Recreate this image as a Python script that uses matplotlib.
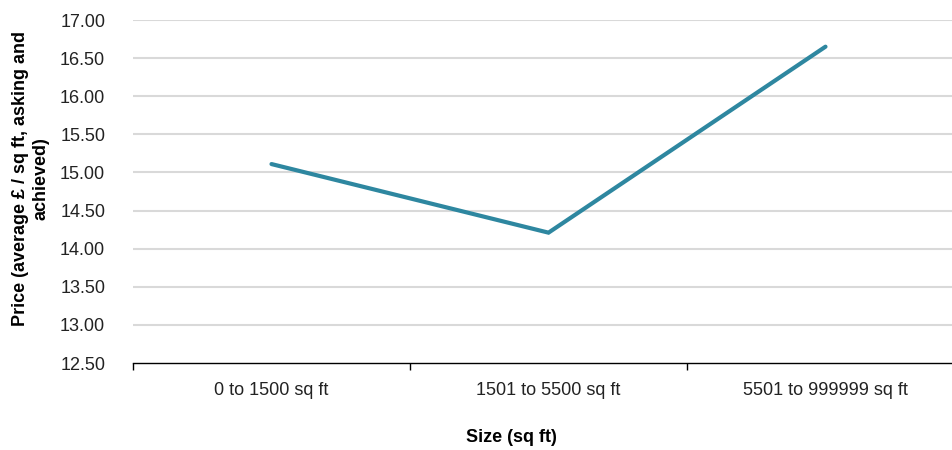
import matplotlib.pyplot as plt

plt.rcParams['font.family'] = ['Liberation Sans', 'DejaVu Sans']

sizes = ['0 to 1500 sq ft', '1501 to 5500 sq ft', '5501 to 999999 sq ft']
price = [15.11, 14.21, 16.65]
yticks = [12.5, 13.0, 13.5, 14.0, 14.5, 15.0, 15.5, 16.0, 16.5, 17.0]

W, H = 952, 450
fig = plt.figure(figsize=(W / 100, H / 100), dpi=100)
# plot area runs past the right edge of the picture, as in the reference
ax = fig.add_axes([133 / W, 1 - 363 / H, (964 - 133) / W, (363 - 20) / H])

x = list(range(len(sizes)))
ax.plot(x, price, color='#2E87A0', lw=3, solid_capstyle='round', solid_joinstyle='miter', zorder=3)

ax.set_xlim(-0.5, len(sizes) - 0.5)
ax.set_ylim(12.5, 17.0)
ax.set_yticks(yticks)
ax.set_yticklabels(['%.2f' % v for v in yticks], fontsize=13, color='#222222')
ax.tick_params(axis='y', length=0, pad=20)

ax.set_xticks(x)
ax.set_xticklabels(sizes, fontsize=13, color='#222222')
ax.set_xticks([-0.5, 0.5, 1.5, 2.5], minor=True)
ax.tick_params(axis='x', which='major', length=0, pad=14)
ax.tick_params(axis='x', which='minor', length=5, width=1, direction='out', color='black')

for v in yticks[1:]:
    ax.axhline(v, color='#D9D9D9', lw=1.5, zorder=1)

for s in ['top', 'right', 'left']:
    ax.spines[s].set_visible(False)
ax.spines['bottom'].set_color('black')
ax.spines['bottom'].set_linewidth(1)

fig.text(511 / W, 1 - 437 / H, 'Size (sq ft)', ha='center', va='center', fontsize=13, fontweight='bold')
fig.text(31 / W, 1 - 179 / H, 'Price (average £ / sq ft, asking and\nachieved)', ha='center', va='center',
         rotation=90, fontsize=13, fontweight='bold', linespacing=1.25)

fig.savefig('out.png', dpi=100)
